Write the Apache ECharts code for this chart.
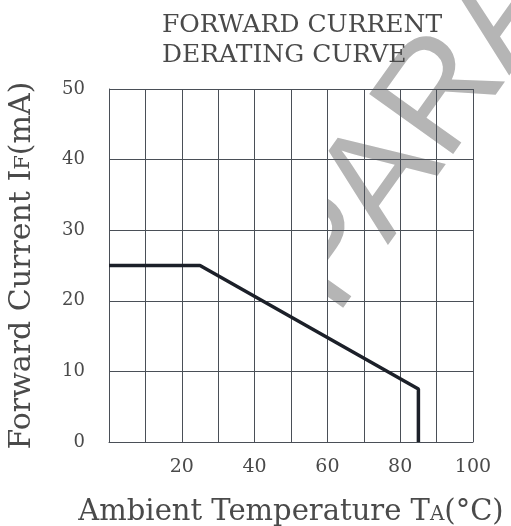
<!DOCTYPE html>
<html>
<head>
<meta charset="utf-8">
<script src="https://cdn.jsdelivr.net/npm/echarts@6/dist/echarts.min.js"></script>
<style>html,body{margin:0;padding:0;background:#fff}#c{width:511px;height:526px}</style>
</head>
<body>
<div id="c"></div>
<script>
// Data
var titleLines = ['FORWARD CURRENT', 'DERATING CURVE'];
var temperature = [0, 25, 85, 85];      // Ambient temperature TA (°C)
var forwardCurrent = [25, 25, 7.5, 0];  // Forward current IF (mA)
var xTickLabels = [20, 40, 60, 80, 100];
var watermarkText = 'PARA';

var FONT = '"DejaVu Serif", "Liberation Serif", serif';
var TXT = '#4a4a4a';
var GRIDC = '#4a4f57';

var chart = echarts.init(document.getElementById('c'), null, {renderer: 'canvas'});
var points = temperature.map(function (t, i) { return [t, forwardCurrent[i]]; });

chart.setOption({
  animation: false,
  backgroundColor: '#fff',
  title: {
    text: titleLines.join('\n'),
    left: 162, top: 10,
    padding: 0,
    textAlign: 'left',
    textStyle: {fontFamily: FONT, fontSize: 25, fontWeight: 'normal', color: TXT, lineHeight: 30}
  },
  graphic: [{
    type: 'text',
    z: -10,
    x: 418, y: 132,
    rotation: 0.95,
    style: {
      text: watermarkText,
      x: 0, y: 0,
      fill: '#b5b5b5',
      font: '150px "Liberation Sans", Arial, sans-serif',
      textAlign: 'center',
      textVerticalAlign: 'middle'
    }
  }, {
    type: 'rect',
    z: -9,
    shape: {x: 0, y: 0, width: 328, height: 526},
    style: {fill: '#fff'}
  }],
  grid: {left: 109, top: 89, width: 364, height: 353, containLabel: false, outerBoundsMode: 'none'},
  xAxis: {
    type: 'value', min: 0, max: 100, interval: 10,
    name: '{n|Ambient Temperature T}{s|A}{n|(°C)}',
    nameLocation: 'middle', nameGap: 56,
    nameTextStyle: {
      rich: {
        n: {fontFamily: FONT, fontSize: 29, color: TXT},
        s: {fontFamily: FONT, fontSize: 20, color: TXT, padding: [4, 0, 0, 0]}
      }
    },
    axisLine: {show: true, lineStyle: {color: GRIDC, width: 1}},
    axisTick: {show: false},
    splitLine: {show: true, lineStyle: {color: GRIDC, width: 1}},
    axisLabel: {
      margin: 16,
      fontFamily: FONT, fontSize: 19, color: TXT,
      formatter: function (v) { return xTickLabels.indexOf(v) >= 0 ? String(v) : ''; }
    }
  },
  yAxis: {
    type: 'value', min: 0, max: 50, interval: 10,
    name: '{n|Forward Current I}{s|F}{n|(mA)}',
    nameLocation: 'middle', nameGap: 72, nameRotate: 90,
    nameTextStyle: {
      rich: {
        n: {fontFamily: FONT, fontSize: 30, color: TXT},
        s: {fontFamily: FONT, fontSize: 21, color: TXT, padding: [4, 0, 0, 0]}
      }
    },
    axisLine: {show: true, lineStyle: {color: GRIDC, width: 1}},
    axisTick: {show: false},
    splitLine: {show: true, lineStyle: {color: GRIDC, width: 1}},
    axisLabel: {
      margin: 24,
      fontFamily: FONT, fontSize: 18, color: TXT,
      padding: [0, 0, 10, 0]
    }
  },
  series: [{
    type: 'line',
    data: points,
    symbol: 'none',
    lineStyle: {color: '#1c2029', width: 3.5},
    z: 5
  }]
});
</script>
</body>
</html>
